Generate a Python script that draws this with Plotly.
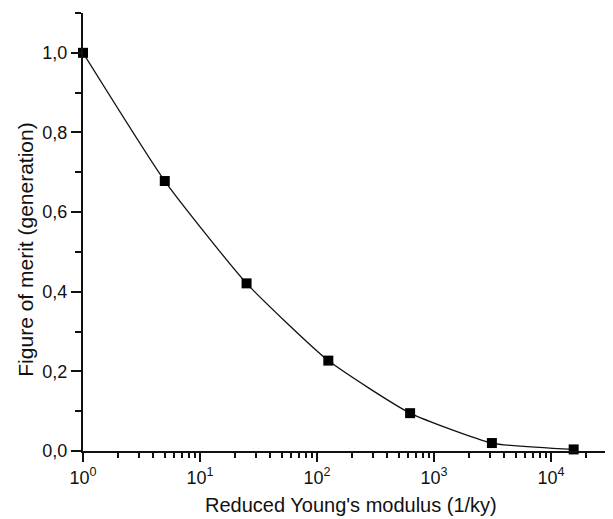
import plotly.graph_objects as go

modulus = [1, 5, 25, 125, 625, 3125, 15625]
merit = [1.0, 0.678, 0.421, 0.227, 0.095, 0.02, 0.004]
x_tick_vals = [1, 10, 100, 1000, 10000]
x_tick_text = ["10<sup>0</sup>", "10<sup>1</sup>", "10<sup>2</sup>", "10<sup>3</sup>", "10<sup>4</sup>"]
y_tick_vals = [0.0, 0.2, 0.4, 0.6, 0.8, 1.0]
x_title = "Reduced Young's modulus (1/ky)"
y_title = "Figure of merit (generation)"

x_minor = [m * 10 ** d for d in range(0, 5) for m in range(2, 10)]
y_minor = [i / 10 for i in range(0, 12)]

FONT = "Liberation Sans, Arial, sans-serif"

fig = go.Figure()
fig.add_trace(go.Scatter(
    x=modulus, y=merit, mode="lines+markers",
    line=dict(color="#111", width=1.3, shape="spline", smoothing=0.5),
    marker=dict(symbol="square", size=10, color="#000"),
    showlegend=False, cliponaxis=False,
))

fig.update_layout(
    width=613, height=519,
    margin=dict(l=75, r=8, t=5, b=76),
    paper_bgcolor="white", plot_bgcolor="white",
    separators=",.",
    font=dict(family=FONT, color="#111"),
)
fig.update_xaxes(
    type="log", range=[0, 4.53],
    tickmode="array", tickvals=x_tick_vals, ticktext=x_tick_text,
    ticks="outside", ticklen=9, tickwidth=1.8, tickcolor="#111",
    minor=dict(tickmode="array", tickvals=x_minor, ticks="outside", ticklen=5,
               tickwidth=1.6, tickcolor="#111"),
    showline=True, linecolor="#111", linewidth=2,
    showgrid=False, zeroline=False,
    tickfont=dict(size=18, family=FONT, color="#111"),
)
fig.update_yaxes(
    range=[0, 1.1],
    tickmode="array", tickvals=y_tick_vals, tickformat=".1f",
    ticks="outside", ticklen=10, tickwidth=1.8, tickcolor="#111",
    minor=dict(tickmode="array", tickvals=y_minor, ticks="outside", ticklen=6,
               tickwidth=1.6, tickcolor="#111"),
    showline=True, linecolor="#111", linewidth=2,
    showgrid=False, zeroline=False,
    tickfont=dict(size=18, family=FONT, color="#111"),
)
fig.add_annotation(
    text=x_title, xref="paper", yref="paper", x=0.505, y=-0.123,
    xanchor="center", yanchor="middle", showarrow=False,
    font=dict(size=20, family=FONT, color="#111"),
)
fig.add_annotation(
    text=y_title, xref="paper", yref="paper", x=-0.108, y=0.459,
    xanchor="center", yanchor="middle", textangle=-90, showarrow=False,
    font=dict(size=21, family=FONT, color="#111"),
)

fig.write_html("out.html")
